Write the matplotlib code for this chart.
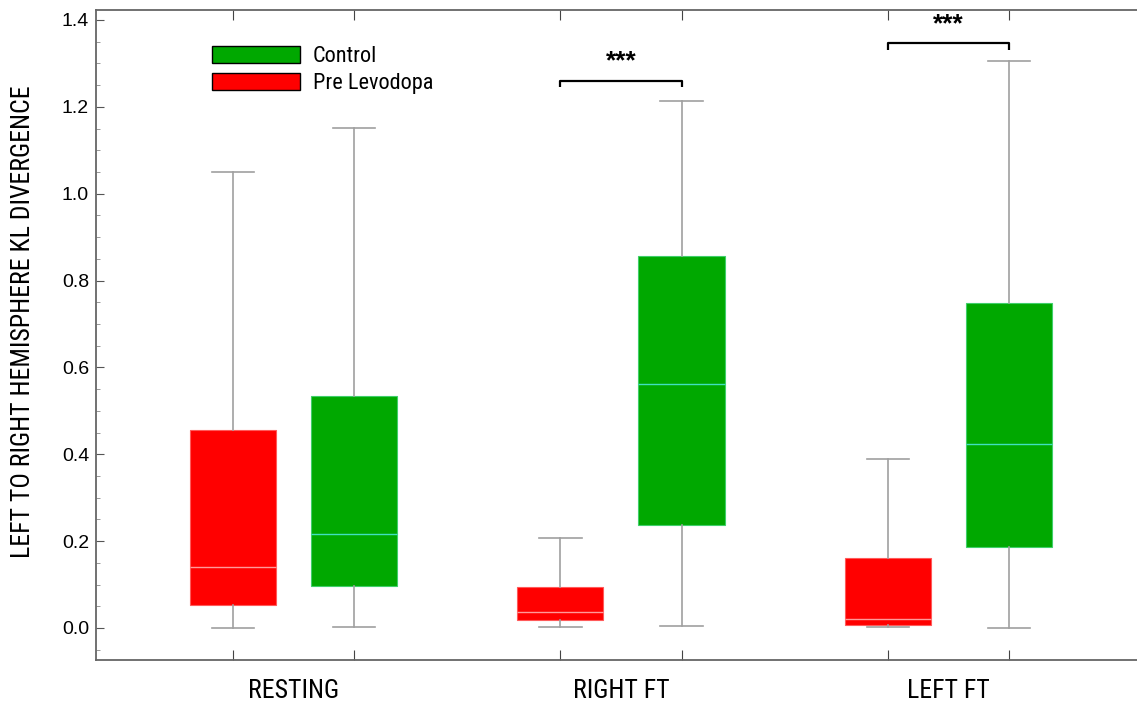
import matplotlib
matplotlib.use('Agg')
import matplotlib.pyplot as plt
from matplotlib.patches import Patch
import numpy as np

# box statistics per condition (RESTING, RIGHT FT, LEFT FT)
categories = ['RESTING', 'RIGHT FT', 'LEFT FT']

pre_whislo = [0.000, 0.002, 0.002]
pre_q1 = [0.053, 0.018, 0.007]
pre_med = [0.140, 0.037, 0.020]
pre_q3 = [0.456, 0.094, 0.161]
pre_whishi = [1.050, 0.207, 0.389]

ctl_whislo = [0.002, 0.005, 0.000]
ctl_q1 = [0.097, 0.237, 0.187]
ctl_med = [0.216, 0.562, 0.424]
ctl_q3 = [0.534, 0.857, 0.748]
ctl_whishi = [1.151, 1.213, 1.306]

# significance brackets: category index, bracket height, label
sig_cat = [1, 2]
sig_y = [1.260, 1.346]
sig_label = ['***', '***']

narrow = ['Roboto Condensed', 'DejaVu Sans']


def make_stats(lo, q1, med, q3, hi):
    return [dict(whislo=a, q1=b, med=c, q3=d, whishi=e, fliers=[])
            for a, b, c, d, e in zip(lo, q1, med, q3, hi)]


fig = plt.figure(figsize=(11.37, 7.02), dpi=100)
ax = fig.add_axes([96 / 1137, 42 / 702, 1 - 96 / 1137, 650 / 702])

centers = np.arange(1, len(categories) + 1)
off = 0.185
width = 0.263

ax.bxp(make_stats(pre_whislo, pre_q1, pre_med, pre_q3, pre_whishi),
       positions=centers - off, widths=width, patch_artist=True,
       showfliers=False, manage_ticks=False,
       boxprops=dict(facecolor='#ff0000', edgecolor='#ff5a5a', linewidth=0.8),
       medianprops=dict(color='#ff9a9a', linewidth=1.0),
       whiskerprops=dict(color='#a0a0a0', linewidth=1.2),
       capprops=dict(color='#a0a0a0', linewidth=1.2), capwidths=0.13)

ax.bxp(make_stats(ctl_whislo, ctl_q1, ctl_med, ctl_q3, ctl_whishi),
       positions=centers + off, widths=width, patch_artist=True,
       showfliers=False, manage_ticks=False,
       boxprops=dict(facecolor='#00a800', edgecolor='#3fcf6a', linewidth=0.8),
       medianprops=dict(color='#40e0c0', linewidth=1.0),
       whiskerprops=dict(color='#a0a0a0', linewidth=1.2),
       capprops=dict(color='#a0a0a0', linewidth=1.2), capwidths=0.13)

# brackets between the two groups
for c, y, lab in zip(sig_cat, sig_y, sig_label):
    x0, x1 = centers[c] - off, centers[c] + off
    ax.plot([x0, x0, x1, x1], [y - 0.014, y, y, y - 0.014], color='black',
            linewidth=1.6, solid_capstyle='butt')
    ax.text(centers[c], y + 0.045, lab, ha='center', va='center',
            fontsize=19, fontweight='bold', family='Liberation Sans')

ax.set_xlim(0.397, 3.576)
ax.set_ylim(-0.0737, 1.423)

ax.set_yticks(np.arange(0, 1.41, 0.2))
ax.set_yticklabels(['%.1f' % v for v in np.arange(0, 1.41, 0.2)],
                   fontsize=14, family='Liberation Sans')
ax.set_yticks(np.arange(-0.05, 1.41, 0.05), minor=True)

ax.set_xticks(np.sort(np.concatenate([centers - off, centers + off])))
ax.set_xticklabels([])
ax.set_xticks(centers, minor=True)
ax.set_xticklabels(categories, minor=True, fontsize=18.5, family=narrow)

ax.tick_params(axis='y', which='major', direction='in', length=6,
               color='#555555', pad=5, left=True, right=False)
ax.tick_params(axis='y', which='minor', direction='in', length=3,
               color='#888888')
ax.tick_params(axis='x', which='major', direction='in', length=7,
               color='#444444', top=True, bottom=True)
ax.tick_params(axis='x', which='minor', length=0, pad=14)

for s in ['left', 'top', 'bottom']:
    ax.spines[s].set_color('#666666')
    ax.spines[s].set_linewidth(1.3)
ax.spines['right'].set_visible(False)

ax.set_ylabel('LEFT TO RIGHT HEMISPHERE KL DIVERGENCE', fontsize=18.5,
              family=narrow)
ax.yaxis.set_label_coords(-0.059, 0.52)

handles = [Patch(facecolor='#00a800', edgecolor='black', linewidth=1.0),
           Patch(facecolor='#ff0000', edgecolor='black', linewidth=1.0)]
ax.legend(handles, ['Control', 'Pre Levodopa'], loc='upper left',
          bbox_to_anchor=(0.111, 0.945), frameon=False, borderpad=0,
          borderaxespad=0, handlelength=4.0, handleheight=0.8,
          handletextpad=0.55, labelspacing=0.25,
          prop=dict(family=narrow, size=16))

fig.savefig('out.png', dpi=100)
